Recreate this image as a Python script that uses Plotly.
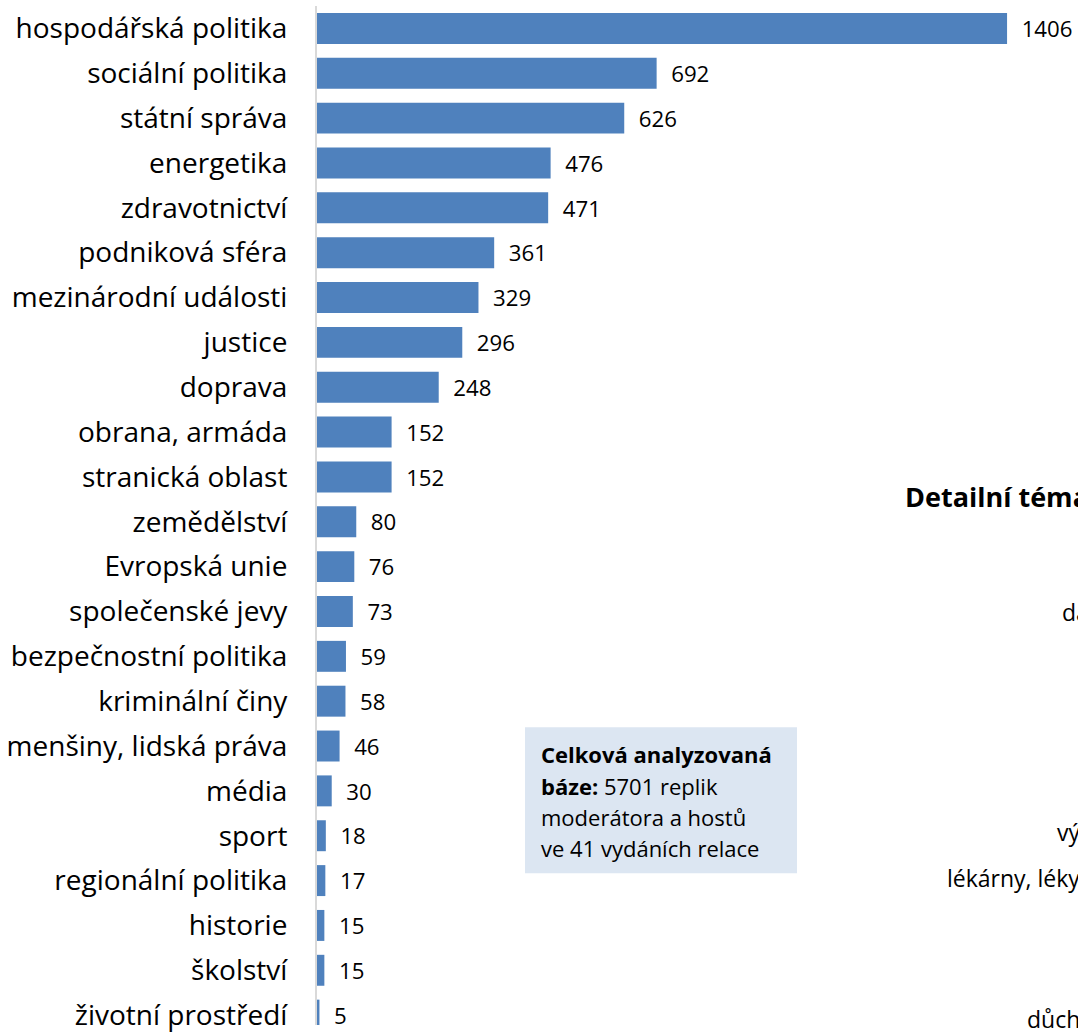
import plotly.graph_objects as go

categories = ["hospodářská politika", "sociální politika", "státní správa", "energetika",
              "zdravotnictví", "podniková sféra", "mezinárodní události", "justice",
              "doprava", "obrana, armáda", "stranická oblast", "zemědělství",
              "Evropská unie", "společenské jevy", "bezpečnostní politika",
              "kriminální činy", "menšiny, lidská práva", "média", "sport",
              "regionální politika", "historie", "školství", "životní prostředí"]
values = [1406, 692, 626, 476, 471, 361, 329, 296, 248, 152, 152, 80, 76, 73, 59,
          58, 46, 30, 18, 17, 15, 15, 5]

info_lines = ["<b>Celková analyzovaná</b>", "<b>báze:</b> 5701 replik",
              "moderátora a hostů", "ve 41 vydáních relace"]

side_texts = ["Detailní téma", "da", "vý", "lékárny, léky", "důch"]
side_bold = [True, False, False, False, False]

W, H = 1078, 1033
ML, MT = 317, 6
pw, ph = W - ML, H - MT

def px(x):
    return (x - ML) / pw

def py(y):
    return (H - y) / ph

fig = go.Figure(go.Bar(
    y=categories, x=values, orientation="h",
    marker=dict(color="#4F81BD", line=dict(width=0)),
    text=values, texttemplate="  %{x}", textposition="outside",
    textfont=dict(family="Open Sans", size=23, color="#000000"),
    cliponaxis=False, width=0.69,
))

fig.update_layout(
    width=W, height=H,
    margin=dict(l=ML, r=0, t=MT, b=0),
    paper_bgcolor="white", plot_bgcolor="white",
    showlegend=False,
    font=dict(family="Open Sans", color="#000000"),
    xaxis=dict(range=[0, 761 / 0.4908], visible=False, showgrid=False, zeroline=False),
    yaxis=dict(range=[22.22, -0.5], type="category", showgrid=False, zeroline=False,
               showline=True, linecolor="#D9D9D9", linewidth=2, ticks="",
               ticklabelstandoff=22,
               tickfont=dict(family="Open Sans", size=28, color="#000000")),
)

# Info box
fig.add_shape(type="rect", xref="paper", yref="paper",
              x0=px(525), x1=px(797), y0=py(880), y1=py(733),
              fillcolor="#DCE6F2", line=dict(width=0), layer="above")
for i, line in enumerate(info_lines):
    fig.add_annotation(xref="paper", yref="paper", x=px(539), y=py(760 + 31.7 * i),
                       xanchor="left", yanchor="middle", align="left", showarrow=False,
                       text=line, font=dict(family="Open Sans", size=22, color="#000000"))

# Cut-off texts of a neighbouring chart
side_pos = [(903, 500), (1060, 617), (1055, 838), (945, 885), (1025, 1027)]
for t, b, (x, y) in zip(side_texts, side_bold, side_pos):
    fig.add_annotation(xref="paper", yref="paper", x=px(x), y=py(y),
                       xanchor="left", yanchor="middle", showarrow=False,
                       text=f"<b>{t}</b>" if b else t,
                       font=dict(family="Open Sans", size=27 if b else 23, color="#000000"))

fig.write_html("out.html", config={"displayModeBar": False},
               post_script="document.body.style.margin='0';document.body.style.overflow='hidden';")
